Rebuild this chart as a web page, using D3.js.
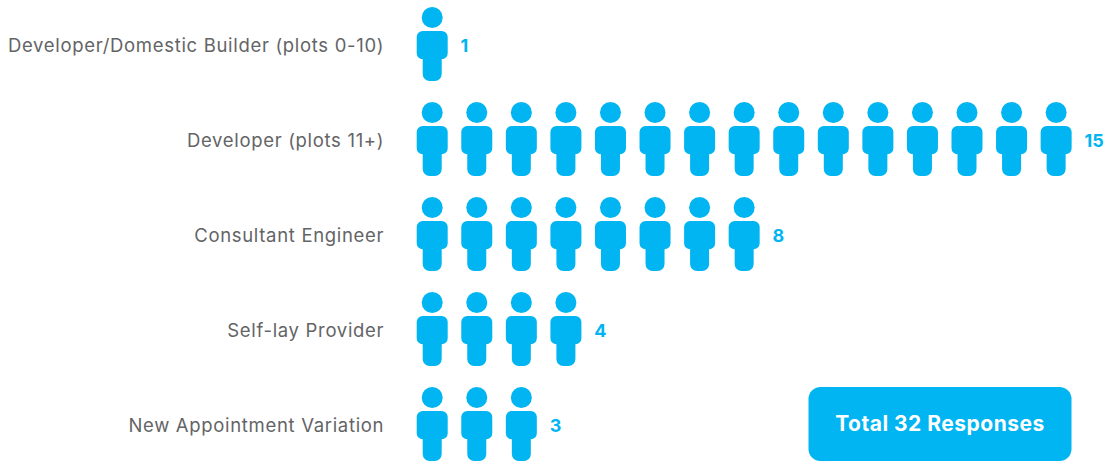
<!DOCTYPE html>
<html>
<head>
<meta charset="utf-8">
<script src="https://cdn.jsdelivr.net/npm/d3@7/dist/d3.min.js"></script>
<style>
html,body{margin:0;padding:0;background:#fff;}
svg{display:block;}
text{font-family:Inter,"Noto Sans",sans-serif;}
</style>
</head>
<body>
<div id="chart"></div>
<script>
const categories = [
  "Developer/Domestic Builder (plots 0-10)",
  "Developer (plots 11+)",
  "Consultant Engineer",
  "Self-lay Provider",
  "New Appointment Variation"
];
const responses = [1, 15, 8, 4, 3];
const totalLabel = "Total 32 Responses";

const width = 1106, height = 461;
const blue = "#00b5f1", grey = "#636466";

const svg = d3.select("#chart").append("svg")
  .attr("width", width).attr("height", height);

// Row centres run 95px apart; each person occupies one unit on the x scale.
const y = d3.scalePoint().domain(categories).range([45, 425]);
const x = d3.scaleLinear().domain([0, 15]).range([432.2, 1100.7]);

const personPath = d3.path();
// Torso and legs of the pictogram, centred on (0,0).
(function drawBody(p) {
  const l = -15.5, r = 15.5, t = -14, b = 14.3, rad = 6;
  const legL = -9.5, legR = 9.5, legB = 36, legRad = 7;
  p.moveTo(l + rad, t);
  p.lineTo(r - rad, t);
  p.arcTo(r, t, r, t + rad, rad);
  p.lineTo(r, b - rad);
  p.arcTo(r, b, r - rad, b, rad);
  p.lineTo(legR, b);
  p.lineTo(legR, legB - legRad);
  p.arcTo(legR, legB, legR - legRad, legB, legRad);
  p.lineTo(legL + legRad, legB);
  p.arcTo(legL, legB, legL, legB - legRad, legRad);
  p.lineTo(legL, b);
  p.lineTo(l + rad, b);
  p.arcTo(l, b, l, b - rad, rad);
  p.lineTo(l, t + rad);
  p.arcTo(l, t, l + rad, t, rad);
  p.closePath();
})(personPath);

const rows = svg.selectAll("g.row")
  .data(categories.map((name, i) => ({ name, count: responses[i] })))
  .join("g")
  .attr("class", "row")
  .attr("transform", d => `translate(0,${y(d.name)})`);

rows.append("text")
  .attr("x", 384.2)
  .attr("y", 1)
  .attr("dy", "0.35em")
  .attr("text-anchor", "end")
  .attr("font-size", 18.5)
  .attr("letter-spacing", 0.68)
  .attr("fill", grey)
  .text(d => d.name);

const people = rows.selectAll("g.person")
  .data(d => d3.range(d.count))
  .join("g")
  .attr("class", "person")
  .attr("transform", i => `translate(${x(i)},0)`);

people.append("circle")
  .attr("cy", -27.5).attr("r", 10.5).attr("fill", blue);
people.append("path")
  .attr("d", personPath.toString()).attr("fill", blue);

rows.append("text")
  .attr("x", d => x(d.count - 1) + 28.3)
  .attr("y", 1)
  .attr("dy", "0.35em")
  .attr("font-size", 18)
  .attr("font-weight", 700)
  .attr("fill", blue)
  .text(d => d.count);

// Total callout
svg.append("rect")
  .attr("x", 808.5).attr("y", 387)
  .attr("width", 263).attr("height", 74)
  .attr("rx", 12)
  .attr("fill", blue);
svg.append("text")
  .attr("x", 940).attr("y", 424)
  .attr("dy", "0.35em")
  .attr("text-anchor", "middle")
  .attr("font-size", 21)
  .attr("font-weight", 700)
  .attr("letter-spacing", 0.5)
  .attr("fill", "#fff")
  .text(totalLabel);
</script>
</body>
</html>
